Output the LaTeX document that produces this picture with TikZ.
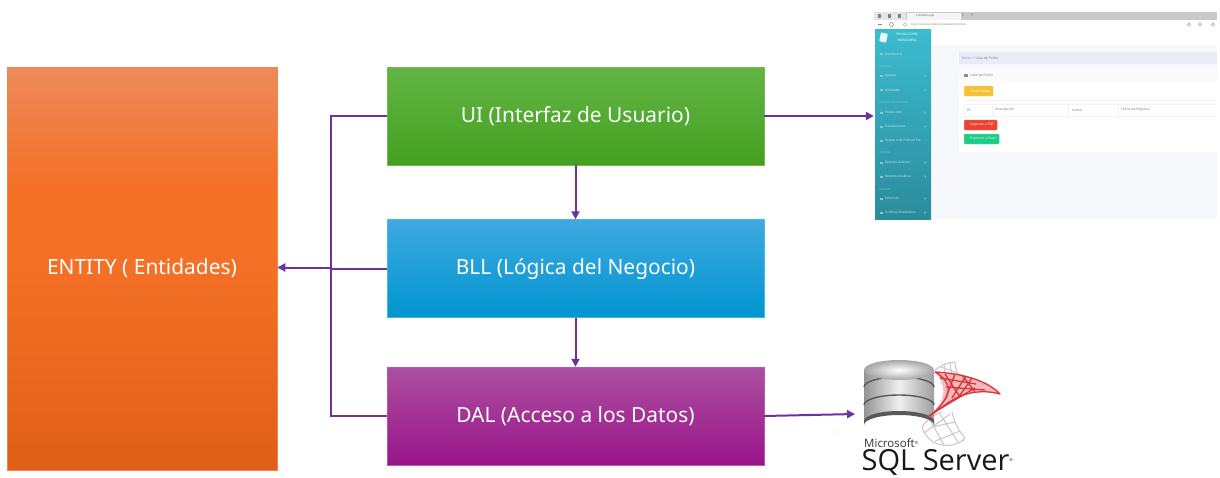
\documentclass[tikz,border=0pt]{standalone}
\usepackage{fontspec}
\setmainfont{Noto Sans}
\newfontfamily\logofont{Open Sans}
\usetikzlibrary{arrows.meta}
\definecolor{conn}{HTML}{7030A0}
\definecolor{enta}{HTML}{EE8A5C}\definecolor{entb}{HTML}{F37026}\definecolor{entc}{HTML}{E05F17}
\definecolor{uia}{HTML}{63B545}\definecolor{uib}{HTML}{4CA52A}\definecolor{uic}{HTML}{44A01F}
\definecolor{blla}{HTML}{3FA9E0}\definecolor{bllb}{HTML}{11A8E4}\definecolor{bllc}{HTML}{0095D0}
\definecolor{dala}{HTML}{AC4FA0}\definecolor{dalb}{HTML}{A82A96}\definecolor{dalc}{HTML}{99158A}
\definecolor{sidea}{HTML}{3CBBD0}\definecolor{sideb}{HTML}{2A8C9C}
\definecolor{btny}{HTML}{F6C136}\definecolor{btnr}{HTML}{EA4335}\definecolor{btng}{HTML}{1FCB85}
\definecolor{pagebg}{HTML}{F7F8FC}\definecolor{crumbbg}{HTML}{E9ECF4}
\definecolor{sqlred}{HTML}{D9343A}
\pgfdeclareverticalshading{entshade}{100bp}{color(0bp)=(entc); color(25bp)=(entc); color(50bp)=(entb); color(60bp)=(entb); color(75bp)=(enta); color(100bp)=(enta)}
\tikzset{
  layer/.style={minimum width=377pt,minimum height=98pt,inner sep=0pt,text=white,font=\fontsize{20.9}{24}\selectfont},
  link/.style={conn,line width=2pt},
  arrowlink/.style={link,-{Triangle[length=8pt,width=8pt]}},
  side/.style={anchor=west,text=white!80!teal,inner sep=0pt,font=\fontsize{3.2}{4}\selectfont},
  sidehead/.style={anchor=west,text=white!55!teal,inner sep=0pt,font=\fontsize{2.4}{3}\selectfont},
  pagetext/.style={anchor=west,text=black!50,inner sep=0pt,font=\fontsize{3.4}{4}\selectfont},
  btn/.style={anchor=west,rounded corners=0.8pt,draw=#1!70,fill=#1,text=white!90!#1,inner sep=0pt,minimum height=10pt,font=\fontsize{3.4}{4}\selectfont},
  redmesh/.style={draw=sqlred,line width=1.3pt,line join=round},
  greymesh/.style={draw=black!22,line width=1pt,line join=round},
  labeltext/.style={raise=1.5pt},
}
\newcommand{\lift}[1]{\raisebox{-1.5pt}{#1}}
\begin{document}
\begin{tikzpicture}[x=1pt,y=-1pt]
\useasboundingbox (0,0) rectangle (1220,477);
\fill[white] (0,0) rectangle (1220,477);

% screenshot
\node[minimum width=343pt,minimum height=207pt,inner sep=0pt] (shot) at (1045.5,115.5) {};
\fill[white] (874,12) rectangle (1217,219);
\fill[black!21] (874,12) rectangle (1217,20);
\fill[black!10] (874,12) rectangle (906,20);
\fill[white!96!black] (907,13) rectangle (961,20);
\foreach \x in {879,889,899}{\fill[black!50] (\x-1.5,14) rectangle (\x+1.5,18);}
\node[anchor=west,inner sep=0pt,text=black!60,font=\fontsize{2.8}{3.5}\selectfont] (tabname) at (916,15.5) {PolleManager};
\node[inner sep=0pt,text=black!60,font=\fontsize{4}{4}\selectfont] (tabclose) at (963,15.5) {×};
\node[inner sep=0pt,text=black!60,font=\fontsize{5}{5}\selectfont] (tabplus) at (972,15.5) {+};
\fill[white] (874,20) rectangle (1217,29);
\node[anchor=west,inner sep=0pt,text=black!50,font=\fontsize{2.6}{3}\selectfont] (url) at (911,24.5) {https://localhost:44342/Utilidades/Alm/Pollos};
\fill[black!45] (878,24) rectangle (882,25);
\draw[black!50,line width=0.5pt] (891.5,24.5) circle (2pt);
\draw[black!35,line width=0.4pt] (905,24.5) circle (1.8pt);
\draw[black!35,line width=0.4pt] (1189,24.5) circle (1.5pt);
\draw[black!35,line width=0.4pt] (1200,24.5) circle (1.5pt);
\draw[black!35,line width=0.4pt] (1213,24.5) circle (1.5pt);
% content area
\fill[pagebg] (931,29) rectangle (1217,219);
\fill[black!4] (931,45) rectangle (1217,48);
\fill[white] (931,29) rectangle (1217,46);
\fill[crumbbg] (959,52) rectangle (1217,64);
\node[pagetext] (crumb) at (962,58.5) {\textcolor{blue!50!white}{Inicio}\enspace/\enspace Lista de Pollos};
\fill[white] (959,69) rectangle (1217,152);
\fill[black!2] (959,69) rectangle (1217,81);
\fill[black!45] (964,73.5) rectangle (968,76.5);
\node[pagetext] (cardtitle) at (970,75) {Lista de Pollos};
\node[btn=btny,minimum width=29pt] (crear) at (964,91) {\hspace{4pt}Crear Nuevo\hspace{4pt}};
\draw[black!5,line width=0.5pt] (964,100) -- (1217,100);
\draw[black!5,line width=0.5pt] (964,104) -- (1217,104) (964,116) -- (1217,116) (964,104) -- (964,116);
\foreach \x in {992,1068,1118}{\draw[black!5,line width=0.5pt] (\x,104) -- (\x,116);}
\node[pagetext] (hid) at (967,110) {ID};
\node[pagetext] (hdesc) at (995,110) {Descripción};
\node[pagetext] (hact) at (1072,110) {Activo};
\node[pagetext] (hfec) at (1121,110) {Fecha de Registro};
\node[btn=btnr,minimum width=33pt] (pdf) at (964,125) {\hspace{3pt}Exportar a PDF\hspace{3pt}};
\node[btn=btng,minimum width=35pt] (xls) at (964,139) {\hspace{3pt}Exportar a Excel\hspace{3pt}};
% sidebar
\shade[top color=sidea,bottom color=sideb] (875,29) rectangle (931,219);
\fill[white!90!cyan,rounded corners=0.8pt,rotate around={-12:(883.5,37.5)}] (880,33) rectangle (887,42);
\node[inner sep=0pt,align=center,text=white,font=\bfseries\fontsize{3.2}{6}\selectfont] (brand) at (907,37.5) {PRODUCCIÓN\\PAENADORA};
\node[side] (s1) at (885,54) {Dashboard};
\node[sidehead] (h1) at (879,66.5) {UTILIDADES};
\node[side] (s2) at (885,76) {Ajustes};
\node[side] (s3) at (885,90) {Utilidades};
\node[sidehead] (h2) at (879,102.5) {REGISTRO INFORMACIÓN};
\node[side] (s4) at (885,112.5) {Producción};
\node[side] (s5) at (885,126.5) {Devoluciones};
\node[side] (s6) at (885,140.5) {Registro de Pollo en Pie};
\node[sidehead] (h3) at (879,153) {REPORTES};
\node[side] (s7) at (885,162.5) {Reporte Gratuito};
\node[side] (s8) at (885,176.5) {Reporte Analítico};
\node[sidehead] (h4) at (879,189.5) {INFORMES};
\node[side] (s9) at (885,198.5) {Informes};
\node[side] (s10) at (885,212.5) {Gráficos Estadísticos};
\foreach \y in {76,90,112.5,126.5,162.5,176.5,198.5,212.5}{\draw[white!70!teal,line width=0.35pt] (924.5,\y-1) -- (925.5,\y) -- (924.5,\y+1);}
\foreach \y in {54,76,90,112.5,126.5,140.5,162.5,176.5,198.5,212.5}{\fill[white!55!teal] (879.5,\y-1) rectangle (882.5,\y+1);}

% layers
\node[draw=entb!85!white,line width=0.6pt,shading=entshade,minimum width=270pt,minimum height=403pt,inner sep=0pt,text=white,font=\fontsize{20.9}{24}\selectfont] (entity) at (142,268.5) {\lift{ENTITY ( Entidades)}};
\node[layer,draw=uib!80!white,top color=uia,middle color=uib,bottom color=uic] (ui) at (575.5,116) {\lift{UI (Interfaz de Usuario)}};
\node[layer,draw=bllb!80!white,top color=blla,middle color=bllb,bottom color=bllc] (bll) at (575.5,268.5) {\lift{BLL (Lógica del Negocio)}};
\node[layer,draw=dalb!80!white,top color=dala,middle color=dalb,bottom color=dalc] (dal) at (575.5,416) {\lift{DAL (Acceso a los Datos)}};

% SQL Server logo
\coordinate (sqlin) at (855,414);
% grey mesh
\draw[greymesh] (935,370) .. controls (942,365) and (948,362) .. (955,362) .. controls (956,372) and (958,380) .. (966,390);
\draw[greymesh] (941,367) -- (962,375) (945,364) -- (944,378) (950,363) -- (952,376);
\draw[greymesh] (922,427) .. controls (928,418) and (935,414) .. (942,412) (952,412) .. controls (955,425) and (960,432) .. (965,438) .. controls (958,446) and (946,446) .. (942,445) .. controls (930,443) and (925,435) .. (922,427);
\draw[greymesh] (930,420) -- (944,445) (940,414) -- (958,442) (924,433) -- (950,414) (935,441) -- (960,431) (932,427) -- (955,422);
% cylinder
\shade[left color=black!42,right color=black!38,middle color=black!6] (864,370) -- (864,424) arc[start angle=180,end angle=360,x radius=35,y radius=10] -- (934,370) -- cycle;
\fill[black!65] (864,421) -- (864,425) arc[start angle=180,end angle=360,x radius=35,y radius=10] -- (934,421) arc[start angle=360,end angle=180,x radius=35,y radius=10] -- cycle;
\draw[black!65,line width=1.4pt] (864,387) arc[start angle=180,end angle=360,x radius=35,y radius=10];
\draw[black!65,line width=1.4pt] (864,405) arc[start angle=180,end angle=360,x radius=35,y radius=10];
\shade[inner color=white,outer color=black!35] (899,370) ellipse (35 and 10);
% red mesh
\fill[sqlred!35] (935,372) .. controls (955,373) and (985,378) .. (1000,394) .. controls (985,390) and (965,390) .. (945,405) .. controls (938,410) and (932,414) .. (927,418) .. controls (940,408) and (952,392) .. cycle;
\draw[redmesh] (935,372) .. controls (955,373) and (985,378) .. (1000,394) .. controls (985,390) and (965,390) .. (945,405) -- (927,418);
\draw[redmesh] (935,372) .. controls (943,376) and (950,385) .. (948,392) .. controls (946,400) and (940,408) .. (927,418);
\draw[redmesh] (945,374) -- (960,397) (955,374) -- (945,400) (962,375) -- (975,392) (972,378) -- (958,398) (946,387) -- (985,390) (975,388) -- (938,410) (940,378) -- (976,384) (966,376) -- (952,398);

\node[anchor=base west,inner sep=0pt,text=black!80,font=\logofont\fontsize{11.5}{12}\selectfont] (mslogo) at (864,447.5) {Microsoft\raisebox{3pt}{\fontsize{4}{4}\selectfont®}};
\node[anchor=base west,inner sep=0pt,text=black!90,font=\logofont\fontsize{29}{30}\selectfont] (sqllogo) at (861.5,470.5) {SQL Server\raisebox{9pt}{\fontsize{4}{4}\selectfont®}};
\node[inner sep=0pt,text=black!50,font=\fontsize{3}{3}\selectfont] (tm) at (963,441) {™};
\fill[yellow!80!orange] (834.5,432) circle (0.6pt);

% connectors
\coordinate (spine) at (331,267.5);
\draw[arrowlink] (ui.east) -- (ui.east -| shot.west);
\draw[arrowlink] (ui.south) -- (bll.north);
\draw[arrowlink] (bll.south) -- (dal.north);
\draw[arrowlink] (dal.east) -- (sqlin);
\draw[link] (ui.west) -| (spine);
\draw[link] (dal.west) -| (spine);
\draw[link] (bll.west) -- (bll.west -| spine);
\draw[arrowlink] (spine) -- (spine -| entity.east);
\end{tikzpicture}
\end{document}
